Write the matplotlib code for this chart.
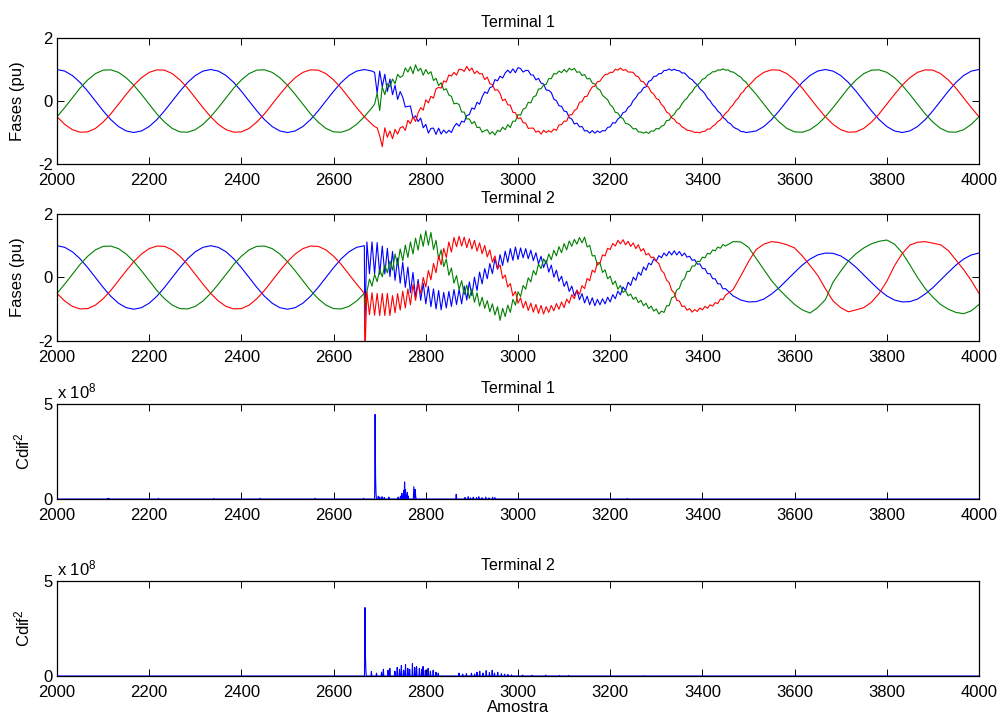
import numpy as np
import matplotlib
matplotlib.use('Agg')
import matplotlib.pyplot as plt

plt.rcParams['font.family'] = ['Liberation Sans', 'DejaVu Sans']
plt.rcParams['mathtext.fontset'] = 'custom'
plt.rcParams['mathtext.rm'] = 'Liberation Sans'
plt.rcParams['mathtext.it'] = 'Liberation Sans:italic'
plt.rcParams['mathtext.bf'] = 'Liberation Sans:bold'
plt.rcParams['axes.unicode_minus'] = False

# ------------------------------------------------------------------ data
# Phase values are read every 6 electrical degrees (1000/180 samples);
# quiet stretches every 3 readings.
SAMPLES_PER_READING = 1000 / 180
X_TICKS = list(range(2000, 4001, 200))

t1_readings = np.r_[np.arange(0, 124, 3), 124, np.arange(125, 271), np.arange(273, 361, 3)]
t2_readings = np.r_[np.arange(0, 121, 3), 120.2, np.arange(121, 262), np.arange(264, 361, 3)]

t1_blue = [1, .95, .81, .59, .31, 0, -.31, -.59, -.81, -.95, -1, -.95, -.81, -.59, -.31, 0, .31, .59, .81, .95,
           1, .95, .81, .59, .31, 0, -.31, -.59, -.81, -.95, -1, -.95, -.81, -.59, -.31, 0, .31, .59, .81, .95,
           1, .95, .91,
           .25, .95, .45, .85, .30, .70, .20, .50, .05, .30,
           .12, -.19, -.17, -.16, -.55, -.47, -.65, -.54, -.85, -.74, -1.02, -.87, -.86, -1.06, -.86, -1.05,
           -.92, -1.02, -.93, -1.00, -.82, -.71, -.80, -.64, -.67, -.46, -.43, -.22, -.26, -.04, -.10, .13, .29, .24, .42, .46,
           .68, .64, .79, .73, .89, .98, .89, 1.02, .90, 1.06,
           1.03, .92, .97, .97, .83, .82, .67, .72, .57, .54, .35, .34, .27, .06, .01, -.15, -.17, -.32, -.34, -.53,
           -.57, -.73, -.70, -.82, -.81, -.95, -.94, -1.02, -.94, -1.02,
           -.95, -1.00, -.94, -.95, -.84, -.82, -.69, -.70, -.57, -.51, -.37, -.34, -.20, -.14, .02, .10, .24, .29, .42, .45,
           .62, .66, .78, .79, .87, .87, .97, .97, 1.02, .97,
           1.01, .97, .96, .89, .89, .81, .72, .68, .58, .52, .39, .32, .23, .09, .01, -.12, -.20, -.32, -.39, -.52,
           -.58, -.68, -.72, -.82, -.87, -.90, -.97, -.97, -1.00, -.99,
           -.95, -.81, -.59, -.31, 0, .31, .59, .81, .95,
           1, .95, .81, .59, .31, 0, -.31, -.59, -.81, -.95, -1, -.95, -.81, -.59, -.31, 0, .31, .59, .81, .95,
           1]

t1_green = [-.5, -.21, .1, .41, .67, .87, .98, .99, .91, .74, .5, .21, -.1, -.41, -.67, -.87, -.98, -.99, -.91, -.74,
            -.5, -.21, .1, .41, .67, .87, .98, .99, .91, .74, .5, .21, -.1, -.41, -.67, -.87, -.98, -.99, -.91, -.74,
            -.5, -.21, -.10,
            .25, -.30, .45, .20, .55, .45, .70, .55, .85, .75,
            .80, 1.05, .92, 1.09, .87, 1.15, .95, 1.04, .82, 1.00, .86, .93, .65, .72, .49, .58,
            .35, .39, .19, .15, -.09, -.07, -.11, -.35, -.35, -.57, -.57, -.72, -.65, -.84, -.83, -.99, -.94, -.91, -1.05, -.97,
            -1.08, -.93, -.97, -.83, -.91, -.75, -.84, -.64, -.64, -.43,
            -.45, -.26, -.22, -.04, -.06, .13, .17, .38, .39, .51, .53, .71, .71, .87, .86, .95, .90, 1.00, .92, 1.04,
            .98, 1.04, .91, .93, .81, .84, .70, .72, .57, .54,
            .40, .35, .18, .11, .04, -.12, -.19, -.36, -.38, -.51, -.56, -.71, -.73, -.79, -.89, -.87, -.98, -.98, -1.02, -.98,
            -1.03, -.95, -.96, -.87, -.89, -.80, -.77, -.62, -.61, -.49,
            -.42, -.29, -.23, -.09, .02, .09, .22, .29, .43, .50, .58, .69, .72, .82, .86, .93, .93, .99, .98, 1.02,
            .98, .99, .93, .92, .87, .80, .76, .66, .60, .49,
            .21, -.1, -.41, -.67, -.87, -.98, -.99, -.91, -.74,
            -.5, -.21, .1, .41, .67, .87, .98, .99, .91, .74, .5, .21, -.1, -.41, -.67, -.87, -.98, -.99, -.91, -.74,
            -.5]

t1_red = [-.5, -.74, -.91, -.99, -.98, -.87, -.67, -.41, -.1, .21, .5, .74, .91, .99, .98, .87, .67, .41, .1, -.21,
          -.5, -.74, -.91, -.99, -.98, -.87, -.67, -.41, -.1, .21, .5, .74, .91, .99, .98, .87, .67, .41, .1, -.21,
          -.5, -.74, -.81,
          -.85, -1.10, -1.45, -.85, -1.15, -.95, -1.20, -.90, -1.05, -.85,
          -.81, -.93, -.61, -.72, -.50, -.65, -.38, -.21, -.29, .04, -.06, .15, .09, .39, .43, .41,
          .64, .60, .83, .79, .91, .82, 1.01, 1.00, .94, 1.10, .96, 1.05, .87, .95, .86, .87, .68, .76, .55, .52,
          .34, .36, .24, .01, .06, -.12, -.13, -.36, -.37, -.56,
          -.53, -.69, -.70, -.87, -.86, -.86, -.99, -.95, -1.05, -.93, -1.00, -.94, -.99, -.89, -.93, -.76, -.75, -.64, -.64, -.44,
          -.44, -.30, -.25, -.04, -.02, .14, .15, .32, .45, .47,
          .61, .63, .75, .84, .85, .91, .91, 1.01, .98, 1.05, .97, 1.00, .92, .92, .91, .80, .77, .63, .61, .50,
          .44, .28, .22, .08, .04, -.11, -.19, -.35, -.40, -.53,
          -.58, -.69, -.72, -.82, -.86, -.93, -.94, -.96, -1.00, -.99, -1.01, -.97, -.96, -.89, -.89, -.80, -.75, -.65, -.60, -.50,
          -.39, -.32, -.20, -.12, .01, .09, .23, .30, .42, .48,
          .74, .91, .99, .98, .87, .67, .41, .1, -.21,
          -.5, -.74, -.91, -.99, -.98, -.87, -.67, -.41, -.1, .21, .5, .74, .91, .99, .98, .87, .67, .41, .1, -.21,
          -.5]

t2_blue = [1, .95, .81, .59, .31, 0, -.31, -.59, -.81, -.95, -1, -.95, -.81, -.59, -.31, 0, .31, .59, .81, .95,
           1, .95, .81, .59, .31, 0, -.31, -.59, -.81, -.95, -1, -.95, -.81, -.59, -.31, 0, .31, .59, .81, .95,
           1,
           -1.6,
           1.12, .12, 1.12, .11, 1.10, .10, .99, .11, .92, .03, .82, -.09, .61, -.18, .48, -.31, .33, -.48, .16, -.64,
           -.06, -.72, -.18, -.83, -.28, -.92, -.36, -.99, -.41, -1.02,
           -.47, -.96, -.44, -.91, -.38, -.85, -.38, -.83, -.27, -.71,
           -.14, -.57, .01, -.41, .17, -.20, .28, -.04, .44, .12,
           .59, .26, .72, .38, .83, .48, .91, .54, .96, .57,
           .93, .62, .91, .59, .86, .53, .78, .43, .67, .31,
           .54, .17, .39, .01, .23, -.12, .04, -.28, -.12, -.44,
           -.27, -.58, -.40, -.70, -.51, -.80, -.59, -.86, -.64, -.89,
           -.69, -.86, -.67, -.83, -.62, -.77, -.54, -.67, -.43, -.55,
           -.30, -.41, -.15, -.25, .01, -.09, .17, .07, .33, .23,
           .45, .40, .58, .52, .69, .62, .77, .68, .82, .71,
           .84, .71, .82, .68, .77, .64, .67, .54, .56, .42,
           .43, .28, .28, .12, .12, -.04, -.04, -.20, -.20, -.36,
           -.35,
           -.58, -.71, -.77, -.76, -.68, -.52, -.32, -.08, .16, .39, .58, .71, .77, .76, .68, .52, .32, .08, -.16, -.39,
           -.58, -.71, -.77, -.76, -.68, -.52, -.32, -.08, .16, .39, .58, .71, .77]

t2_green = [-.5, -.21, .1, .41, .67, .87, .98, .99, .91, .74, .5, .21, -.1, -.41, -.67, -.87, -.98, -.99, -.91, -.74,
            -.5, -.21, .1, .41, .67, .87, .98, .99, .91, .74, .5, .21, -.1, -.41, -.67, -.87, -.98, -.99, -.91, -.74,
            -.5,
            -.9,
            -.45, -.05, -.27, .10, -.13, .25, .02, .39, .15, .52,
            .23, .74, .38, .90, .53, 1.02, .63, 1.12, .74, 1.24,
            .86, 1.36, .98, 1.47, 1.02, 1.42, .88, 1.17, .58, .87,
            .34, .58, .07, .30, -.18, .06, -.38, -.10, -.54, -.24,
            -.66, -.36, -.78, -.48, -.90, -.62, -.97, -.73, -1.08, -.83,
            -1.18, -.92, -1.35, -.97, -1.23, -.87, -1.10, -.69, -.87, -.45,
            -.60, -.25, -.37, -.01, -.14, .22, .08, .42, .28, .59,
            .43, .74, .56, .86, .68, .97, .78, 1.07, .87, 1.15,
            .98, 1.20, 1.05, 1.26, 1.09, 1.27, .96, 1.01, .68, .69,
            .39, .46, .16, .24, -.04, .04, -.22, -.11, -.37, -.25,
            -.47, -.41, -.58, -.52, -.69, -.62, -.79, -.72, -.89, -.81,
            -.98, -.90, -1.06, -.99, -1.15, -1.06, -1.10, -.89, -.89, -.64,
            -.61, -.39, -.34, -.11, -.04, .19, .19, .36, .36, .51,
            .50, .64, .62, .76, .74, .87, .84, .96, .92, 1.04,
            .99,
            1.13, 1.12, .95, .60, .25, -.10, -.38, -.62, -.85, -1.02, -1.12, -.95, -.70, -.15, .20, .52, .75, .93, 1.06, 1.14,
            1.18, 1.05, .78, .40, .00, -.35, -.62, -.85, -1.00, -1.10, -1.14, -1.05, -.85]

t2_red = [-.5, -.74, -.91, -.99, -.98, -.87, -.67, -.41, -.1, .21, .5, .74, .91, .99, .98, .87, .67, .41, .1, -.21,
          -.5, -.74, -.91, -.99, -.98, -.87, -.67, -.41, -.1, .21, .5, .74, .91, .99, .98, .87, .67, .41, .1, -.21,
          -.5,
          -2.5,
          -.45, -1.17, -.48, -1.19, -.50, -1.20, -.50, -1.20, -.50, -1.20,
          -.57, -1.11, -.51, -1.03, -.43, -.96, -.36, -.86, -.22, -.72,
          -.18, -.51, .00, -.30, .22, -.07, .44, .15, .68, .40,
          .92, .63, 1.12, .80, 1.26, .97, 1.30, .99, 1.27, .94,
          1.22, .90, 1.17, .83, 1.09, .75, 1.01, .65, .87, .48,
          .68, .27, .40, -.03, .08, -.30, -.19, -.58, -.44, -.81,
          -.64, -.96, -.75, -1.04, -.81, -1.09, -.85, -1.13, -.88, -1.15,
          -.92, -1.10, -.88, -1.05, -.82, -1.00, -.77, -.95, -.68, -.81,
          -.54, -.67, -.40, -.53, -.26, -.35, -.03, -.10, .23, .16,
          .47, .45, .71, .68, .92, .88, 1.07, .99, 1.17, 1.06,
          1.19, 1.03, 1.14, .98, 1.09, .91, 1.03, .83, .91, .71,
          .76, .62, .64, .51, .44, .22, .14, -.08, -.16, -.40,
          -.48, -.72, -.74, -.91, -.90, -1.03, -.98, -1.09, -1.01, -1.07,
          -.96, -1.02, -.91, -.97, -.86, -.90, -.79, -.82, -.68, -.70,
          -.56,
          -.38, .05, .50, .88, 1.05, 1.13, 1.10, 1.03, .93, .68, .38, .07, -.35, -.74, -.95, -1.08, -1.02, -.95, -.78, -.50,
          -.12, .37, .75, 1.02, 1.11, 1.13, 1.08, 1.03, .85, .55, .25, -.10, -.50]

# Cdif^2 (units of 1e8): non-zero samples only
cdif1_samples = [2110, 2113, 2220, 2340, 2440, 2560, 2665, 2690, 2691, 2692, 2697, 2700, 2705, 2710, 2720,
                 2740, 2745, 2748, 2752, 2754, 2756, 2758, 2760, 2762, 2774, 2775, 2777, 2778, 2866,
                 2885, 2892, 2897, 2903, 2910, 2915, 2922, 2930, 2937, 2945, 2950, 3237]
cdif1_values = [.04, .03, .04, .03, .04, .04, .04, 4.45, 1.2, .3, .15, .1, .12, .08, .1,
                .1, .15, .3, .45, .9, .5, .2, .35, .15, .65, .3, .5, .15, .25,
                .08, .12, .06, .1, .08, .12, .07, .1, .06, .09, .07, .03]
cdif2_samples = [2668, 2669, 2670, 2682, 2693, 2704, 2708, 2718, 2722, 2733, 2738, 2743, 2747,
                 2752, 2756, 2761, 2765, 2771, 2776, 2780, 2786, 2791, 2794, 2799, 2805, 2810, 2816, 2822, 2827,
                 2872, 2880, 2888, 2899, 2906, 2911, 2917, 2924, 2931, 2938, 2944, 2949, 2956, 2964, 2971,
                 2978, 2986, 3010, 3030, 3060, 3090, 3110, 3274]
cdif2_values = [3.6, 1.1, .3, .23, .15, .2, .35, .3, .4, .25, .45, .35, .55,
                .3, .6, .4, .35, .65, .45, .5, .4, .35, .5, .3, .4, .25, .3, .2, .15,
                .15, .1, .12, .15, .1, .2, .25, .15, .28, .18, .3, .15, .2, .12, .1,
                .08, .06, .05, .04, .05, .03, .03, .02]

# ------------------------------------------------------------------ figure
BLUE, GREEN, RED = '#0000ff', '#008000', '#ff0000'
FS = 12

fig = plt.figure(figsize=(10, 7.2), dpi=100)
L, W = 0.057, 0.922
ax1 = fig.add_axes([L, 0.7722, W, 0.1750])
ax2 = fig.add_axes([L, 0.5264, W, 0.1764])
ax3 = fig.add_axes([L, 0.3069, W, 0.1320])
ax4 = fig.add_axes([L, 0.0611, W, 0.1320])


def style(ax):
    ax.set_xlim(2000, 4000)
    ax.set_xticks(X_TICKS)
    ax.tick_params(direction='in', length=5, width=0.7, top=True, right=True, labelsize=FS)
    ax.tick_params(axis='x', pad=6.5)
    ax.tick_params(axis='y', pad=3)
    for s in ax.spines.values():
        s.set_linewidth(0.9)


def phases(ax, readings, b, g, r, title):
    x = 2000 + readings * SAMPLES_PER_READING
    ax.plot(x, b, color=BLUE, lw=0.8)
    ax.plot(x, g, color=GREEN, lw=0.8)
    ax.plot(x, r, color=RED, lw=0.8)
    style(ax)
    ax.set_ylim(-2, 2)
    ax.set_yticks([-2, 0, 2])
    ax.set_title(title, fontsize=FS - 0.5, pad=8)
    ax.set_ylabel('Fases (pu)', fontsize=FS)
    ax.yaxis.set_label_coords(-0.035, 0.5)


def cdif(ax, samples, values, title):
    x = np.arange(2000, 4001)
    y = np.zeros(x.size)
    y[np.array(samples) - 2000] = values
    ax.plot(x, y, color=BLUE, lw=0.8, zorder=3)
    style(ax)
    ax.set_ylim(0, 5)
    ax.set_yticks([0, 5])
    ax.set_title(title, fontsize=FS - 0.5, pad=8)
    ax.set_ylabel('Cdif$^2$', fontsize=FS)
    ax.yaxis.set_label_coords(-0.027, 0.5)
    ax.text(0, 1.03, 'x 10$^{8}$', transform=ax.transAxes, ha='left', va='bottom', fontsize=FS)


phases(ax1, t1_readings, t1_blue, t1_green, t1_red, 'Terminal 1')
phases(ax2, t2_readings, t2_blue, t2_green, t2_red, 'Terminal 2')
cdif(ax3, cdif1_samples, cdif1_values, 'Terminal 1')
cdif(ax4, cdif2_samples, cdif2_values, 'Terminal 2')
ax4.set_xlabel('Amostra', fontsize=FS, labelpad=0)

fig.savefig('out.png', dpi=100)
